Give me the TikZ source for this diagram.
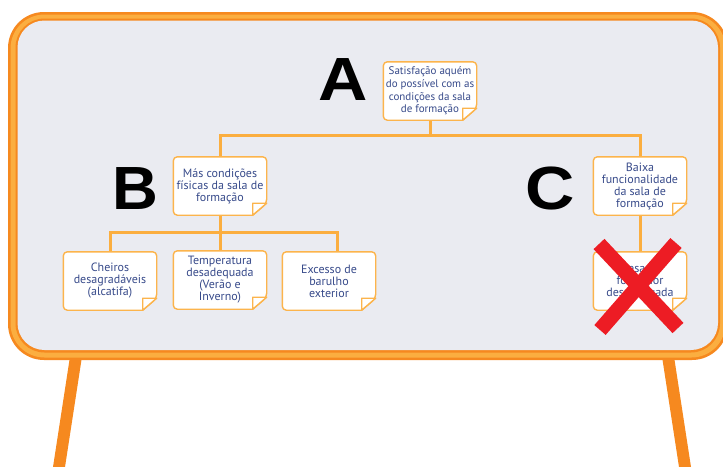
\documentclass[tikz,border=0pt]{standalone}
\usepackage{fontspec}
\setmainfont{PT Sans}
\newfontfamily\bigfont{Liberation Sans}

\definecolor{frameDark}{RGB}{246,137,31}
\definecolor{frameLight}{RGB}{251,174,64}
\definecolor{boardFill}{RGB}{234,235,241}
\definecolor{noteEdge}{RGB}{252,180,76}
\definecolor{noteText}{RGB}{55,74,138}
\definecolor{crossRed}{RGB}{237,28,36}

\pgfdeclarelayer{board}
\pgfdeclarelayer{paper}
\pgfsetlayers{board,paper,main}

\tikzset{
  note/.style={minimum width=93pt, minimum height=58pt, inner sep=0pt,
    align=center, text=noteText, font=\fontsize{12}{12}\selectfont},
  smallnote/.style={note, font=\fontsize{11}{12.6}\selectfont},
  noteline/.style={draw=noteEdge, line width=1.4pt, fill=white, line join=round},
  link/.style={draw=frameLight, line width=3pt},
  bigletter/.style={font=\bigfont\bfseries\fontsize{61}{61}\selectfont,
    text=black, inner sep=0pt},
  crossbar/.style={draw=crossRed, line width=15pt},
}

\begin{document}
\begin{tikzpicture}[x=1pt,y=-1pt]
\useasboundingbox (0,0) rectangle (723,466);

% sticky notes
\node[smallnote] (A) at (430,91) {Satisfação aquém\\do possível com as\\condições da sala\\de formação};
\node[note] (B)  at (220,186) {Más condições\\físicas da sala de\\formação};
\node[note] (C)  at (640,186) {Baixa\\funcionalidade\\da sala de\\formação};
\node[note] (L1) at (110,281) {Cheiros\\desagradáveis\\(alcatifa)};
\node[note] (L2) at (220,280) {Temperatura\\desadequada\\(Verão e\\Inverno)};
\node[note] (L3) at (329,281) {Excesso de\\barulho\\exterior};
\node[note] (L4) at (640,281) {Mesa do\\formador\\desadequada};

% big category letters
\node[bigletter] (letA) at (343,80)  {\scalebox{1.12}[1]{A}};
\node[bigletter] (letB) at (135,189) {\scalebox{1.04}[1]{B}};
\node[bigletter] (letC) at (550,188) {\scalebox{1.12}[1]{C}};

% crossed-out item
\draw[crossbar] (599,244) -- (678,328);
\draw[crossbar] (676,243) -- (600,330);

\begin{pgfonlayer}{board}
  % easel legs
  \fill[frameDark] (71,350) -- (83,350) -- (65,467) -- (53,467) -- cycle;
  \fill[frameDark] (661,350) -- (673,350) -- (691,467) -- (679,467) -- cycle;
  % board frame and surface
  \fill[frameDark, rounded corners=36pt] (8,12) rectangle (728,360);
  \fill[frameLight, rounded corners=34pt] (10.5,14.5) rectangle (725.5,357.5);
  \fill[frameDark, rounded corners=29pt] (15.5,18.5) rectangle (720,352.5);
  \fill[boardFill, rounded corners=27pt] (17.5,20.5) rectangle (718,350);
  % tree connectors
  \draw[link] (A.south) -- ++(0,16);
  \draw[link] (B.north) -- ++(0,-21) -| (C.north);
  \draw[link] (B.south) -- ++(0,18);
  \draw[link] (L1.north) -- ++(0,-19) -| ([xshift=8pt]L3.north);
  \draw[link] (L2.north) -- ++(0,-18);
  \draw[link] (C.south) -- (L4.north);
\end{pgfonlayer}

\begin{pgfonlayer}{paper}
  \foreach \n in {A,B,C,L1,L2,L3,L4} {
    \draw[noteline, rounded corners=4pt] (\n.north west) -- (\n.north east)
      -- ([yshift=12pt]\n.south east) [sharp corners] -- ([xshift=-14pt]\n.south east)
      [rounded corners=4pt] -- (\n.south west) -- cycle;
    \draw[noteline] ([xshift=-14pt,yshift=12pt]\n.south east) -- ([yshift=12pt]\n.south east)
      -- ([xshift=-14pt]\n.south east) -- cycle;
  }
\end{pgfonlayer}
\end{tikzpicture}
\end{document}
